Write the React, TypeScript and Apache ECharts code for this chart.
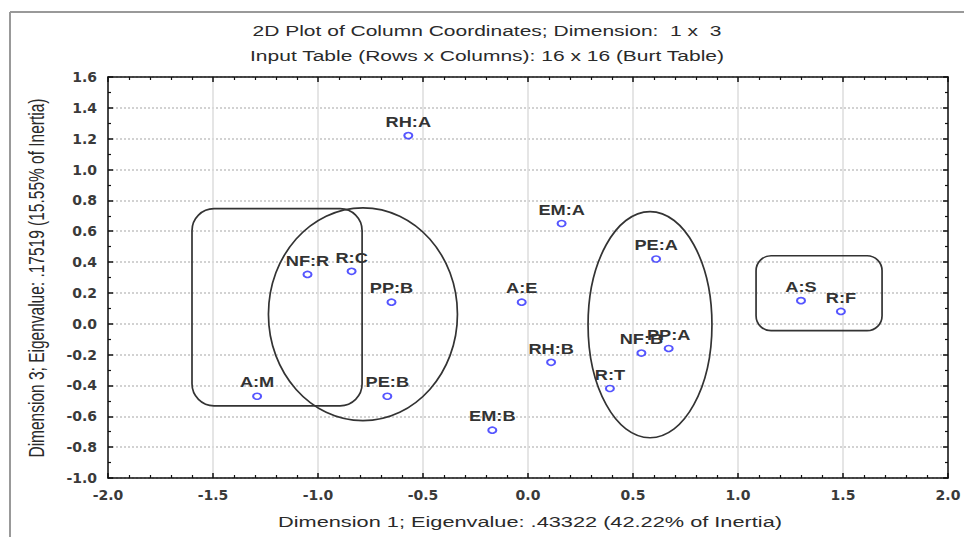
import React, { useEffect, useRef } from "react";
import * as echarts from "echarts";

// ---- data ----
const pointLabels = ["RH:A", "EM:A", "PE:A", "NF:R", "R:C", "PP:B", "A:E", "A:S", "R:F", "NF:B", "PP:A", "RH:B", "R:T", "A:M", "PE:B", "EM:B"];
const dim1 = [-0.57, 0.16, 0.61, -1.05, -0.84, -0.65, -0.03, 1.30, 1.49, 0.54, 0.67, 0.11, 0.39, -1.29, -0.67, -0.17];
const dim3 = [1.22, 0.65, 0.42, 0.32, 0.34, 0.14, 0.14, 0.15, 0.08, -0.19, -0.16, -0.25, -0.42, -0.47, -0.47, -0.69];

// enclosing shapes in data coordinates: [x1, y1, x2, y2, kind(0=rounded rect,1=ellipse), cornerRadiusPx]
const shapeBoxes = [
  [-1.6, 0.746, -0.79, -0.532, 0, 22],
  [-1.236, 0.752, -0.336, -0.628, 1, 0],
  [0.286, 0.727, 0.876, -0.739, 1, 0],
  [1.086, 0.441, 1.686, -0.045, 0, 15],
];

const xTicks = { min: -2, max: 2, interval: 0.5 };
const yTicks = { min: -1, max: 1.6, interval: 0.2 };

const titleLines = [
  "2D Plot of Column Coordinates; Dimension:  1 x  3",
  "Input Table (Rows x Columns): 16 x 16 (Burt Table)",
];
const xName = "Dimension 1; Eigenvalue: .43322 (42.22% of Inertia)";
const yName = "Dimension 3; Eigenvalue: .17519 (15.55% of Inertia)";

const FONT = "'Liberation Sans', Arial, sans-serif";
const TXT = "#2a2a2a";
const STRETCH = 1.4;

const fmt = (v: number) => (Math.abs(v) < 1e-9 ? "0.0" : v.toFixed(1));

export default function App() {
  const ref = useRef<HTMLDivElement>(null);
  useEffect(() => {
    if (!ref.current) return;
    const chart = echarts.init(ref.current, undefined, { renderer: "svg" });
    const pts = dim1.map((x, i) => [x, dim3[i], i]);

    const axisCommon = {
      axisLine: { show: true, onZero: false, lineStyle: { color: "#111", width: 1.5 } },
      axisTick: { show: true, inside: true, length: 5, lineStyle: { color: "#111", width: 1.5 } },
      minorTick: { show: true, length: 3, lineStyle: { color: "#111", width: 1.2 } },
    };

    chart.setOption({
      animation: false,
      backgroundColor: "#fff",
      grid: { left: 108, right: 16, top: 77, bottom: 59, containLabel: false },
      xAxis: [
        {
          type: "value", position: "bottom", ...xTicks, ...axisCommon,
          minorTick: { ...axisCommon.minorTick, splitNumber: 5 },
          splitLine: { show: true, lineStyle: { color: "#dcdcdc", width: 1.5 } },
          axisLabel: { formatter: fmt, margin: 10, fontFamily: "'DejaVu Sans', sans-serif", fontWeight: "bold", fontSize: 14, color: "#3a3a3a" },
        },
        {
          type: "value", position: "top", ...xTicks, ...axisCommon,
          minorTick: { ...axisCommon.minorTick, splitNumber: 5 },
          splitLine: { show: false }, axisLabel: { show: false },
        },
      ],
      yAxis: [
        {
          type: "value", position: "left", ...yTicks, ...axisCommon,
          minorTick: { ...axisCommon.minorTick, splitNumber: 2 },
          splitLine: { show: true, lineStyle: { color: "#c4c4c4", width: 1.5, type: [2, 2] } },
          axisLabel: { formatter: fmt, margin: 11, fontFamily: "'DejaVu Sans', sans-serif", fontWeight: "bold", fontSize: 14, color: "#3a3a3a" },
        },
        {
          type: "value", position: "right", ...yTicks, ...axisCommon,
          minorTick: { ...axisCommon.minorTick, splitNumber: 2 },
          splitLine: { show: false }, axisLabel: { show: false },
        },
      ],
      series: [
        {
          type: "custom",
          name: "groups",
          xAxisIndex: 0, yAxisIndex: 0,
          data: shapeBoxes,
          silent: true,
          z: 3,
          renderItem: (_p: any, api: any) => {
            const p1 = api.coord([api.value(0), api.value(1)]);
            const p2 = api.coord([api.value(2), api.value(3)]);
            const kind = api.value(4);
            const style = { fill: "none", stroke: "#333", lineWidth: 1.7 };
            if (kind === 1) {
              return {
                type: "ellipse",
                shape: { cx: (p1[0] + p2[0]) / 2, cy: (p1[1] + p2[1]) / 2, rx: Math.abs(p2[0] - p1[0]) / 2, ry: Math.abs(p2[1] - p1[1]) / 2 },
                style,
              };
            }
            return {
              type: "rect",
              shape: { x: Math.min(p1[0], p2[0]), y: Math.min(p1[1], p2[1]), width: Math.abs(p2[0] - p1[0]), height: Math.abs(p2[1] - p1[1]), r: api.value(5) },
              style,
            };
          },
        },
        {
          type: "scatter",
          name: "points",
          xAxisIndex: 0, yAxisIndex: 0,
          data: pts,
          symbol: "circle",
          symbolSize: [8, 6],
          z: 5,
          itemStyle: { color: "#fff", borderColor: "#2a2aff", borderWidth: 1.8 },
        },
        {
          type: "custom",
          name: "labels",
          xAxisIndex: 0, yAxisIndex: 0,
          data: pts,
          silent: true,
          z: 6,
          renderItem: (_p: any, api: any) => {
            const c = api.coord([api.value(0), api.value(1)]);
            const i = api.value(2);
            return {
              type: "text",
              x: c[0],
              y: c[1] - 14,
              scaleX: 1.3,
              style: {
                text: pointLabels[i], x: 0, y: 0,
                align: "center", verticalAlign: "middle",
                textAlign: "center", textVerticalAlign: "middle",
                fontSize: 14, fontWeight: "bold", fontFamily: FONT, fill: "#333",
              },
            };
          },
        },
      ],
      graphic: [
        { type: "line", shape: { x1: 10, y1: 12, x2: 964, y2: 12 }, style: { stroke: "#999", lineWidth: 2 } },
        { type: "line", shape: { x1: 10, y1: 12, x2: 10, y2: 537 }, style: { stroke: "#999", lineWidth: 2 } },
        ...titleLines.map((t, k) => ({
          type: "text", x: 487, y: 31 + k * 25, scaleX: STRETCH,
          style: { text: t, x: 0, y: 0, align: "center", verticalAlign: "middle", textAlign: "center", textVerticalAlign: "middle", fontSize: 15, fontFamily: FONT, fill: TXT },
        })),
        {
          type: "text", x: 530, y: 522, scaleX: 1.45,
          style: { text: xName, x: 0, y: 0, align: "center", verticalAlign: "middle", textAlign: "center", textVerticalAlign: "middle", fontSize: 15, fontFamily: FONT, fill: TXT },
        },
        {
          type: "text", x: 37, y: 278, rotation: Math.PI / 2, scaleY: STRETCH,
          style: { text: yName, x: 0, y: 0, align: "center", verticalAlign: "middle", textAlign: "center", textVerticalAlign: "middle", fontSize: 15.5, fontFamily: FONT, fill: TXT },
        },
      ],
    });
    return () => chart.dispose();
  }, []);
  return <div ref={ref} style={{ position: "absolute", left: 0, top: 0, width: 964, height: 537 }} />;
}
